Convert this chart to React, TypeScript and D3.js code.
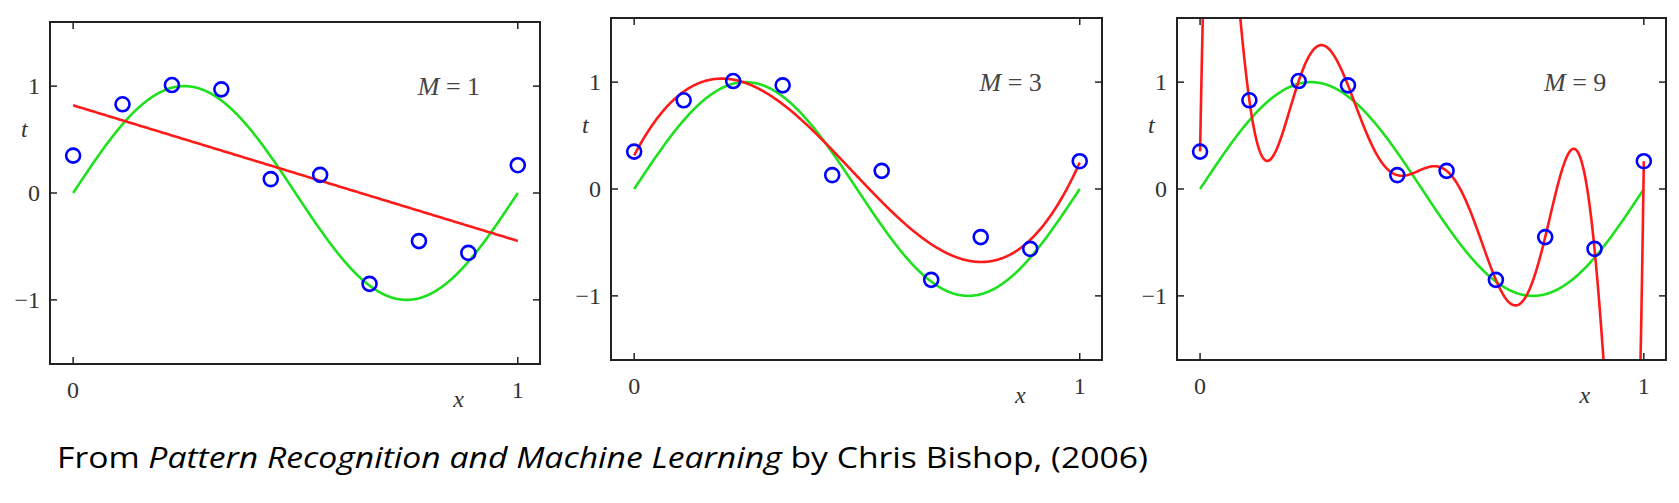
import React from 'react';
import * as d3 from 'd3';

const xs: number[] = [0, 1 / 9, 2 / 9, 3 / 9, 4 / 9, 5 / 9, 6 / 9, 7 / 9, 8 / 9, 1];
const ts: number[] = [0.35, 0.83, 1.01, 0.97, 0.13, 0.17, -0.85, -0.45, -0.56, 0.26];
const orders: number[] = [1, 3, 9];
const xTicks: number[] = [0, 1];
const yTicks: number[] = [-1, 0, 1];

// panel boxes [left, top, right, bottom]
const boxes: number[][] = [
    [50, 22, 540, 364],
    [611, 18, 1102, 360],
    [1177, 18, 1666, 360],
];

// least squares polynomial fit of order m (m=9 -> interpolation)
function polyfit(m: number): number[] {
    const n = m + 1;
    const A: number[][] = [];
    for (let i = 0; i < n; i++) {
        const row: number[] = [];
        for (let j = 0; j < n; j++) {
            row.push(d3.sum(xs, (x) => Math.pow(x, i + j)));
        }
        row.push(d3.sum(xs, (x, k) => Math.pow(x, i) * ts[k]));
        A.push(row);
    }
    for (let c = 0; c < n; c++) {
        let p = c;
        for (let r = c + 1; r < n; r++) if (Math.abs(A[r][c]) > Math.abs(A[p][c])) p = r;
        [A[c], A[p]] = [A[p], A[c]];
        for (let r = 0; r < n; r++) {
            if (r === c) continue;
            const f = A[r][c] / A[c][c];
            for (let k = c; k <= n; k++) A[r][k] -= f * A[c][k];
        }
    }
    return A.map((row, i) => row[n] / row[i]);
}

const evalPoly = (w: number[], x: number) => w.reduce((s, c, i) => s + c * Math.pow(x, i), 0);

const serif = '"Liberation Serif", "DejaVu Serif", serif';

const Panel: React.FC<{ idx: number }> = ({ idx }) => {
    const [l, t, r, b] = boxes[idx];
    const x = d3.scaleLinear().domain([-0.052, 1.05]).range([l, r]);
    const y = d3.scaleLinear().domain([-1.6, 1.6]).range([b, t]);
    const grid = d3.range(0, 1.0001, 0.002);
    const line = d3.line<[number, number]>().x((d) => x(d[0])).y((d) => y(d[1]));
    const w = polyfit(orders[idx]);
    const fit = grid.map((g) => [g, Math.max(-5, Math.min(5, evalPoly(w, g)))] as [number, number]);
    const truth = grid.map((g) => [g, Math.sin(2 * Math.PI * g)] as [number, number]);
    const clipId = `clip${idx}`;
    return (
        <g>
            <defs>
                <clipPath id={clipId}>
                    <rect x={l} y={t} width={r - l} height={b - t} />
                </clipPath>
            </defs>
            <g clipPath={`url(#${clipId})`}>
                <path d={line(truth) ?? ''} fill="none" stroke="#1ee01e" strokeWidth={2.6} />
                <path d={line(fit) ?? ''} fill="none" stroke="#ff1a1a" strokeWidth={2.6} />
                {xs.map((v, i) => (
                    <circle key={i} cx={x(v)} cy={y(ts[i])} r={7} fill="none" stroke="#0000ff" strokeWidth={2.6} />
                ))}
            </g>
            <rect x={l} y={t} width={r - l} height={b - t} fill="none" stroke="#222" strokeWidth={2} />
            {xTicks.map((v) => (
                <g key={v}>
                    <line x1={x(v)} x2={x(v)} y1={b} y2={b - 7} stroke="#222" strokeWidth={1.5} />
                    <line x1={x(v)} x2={x(v)} y1={t} y2={t + 7} stroke="#222" strokeWidth={1.5} />
                    <text x={x(v)} y={b + 34} textAnchor="middle" fontFamily={serif} fontSize={24} fill="#333">{v}</text>
                </g>
            ))}
            {yTicks.map((v) => (
                <g key={v}>
                    <line x1={l} x2={l + 7} y1={y(v)} y2={y(v)} stroke="#222" strokeWidth={1.5} />
                    <line x1={r} x2={r - 7} y1={y(v)} y2={y(v)} stroke="#222" strokeWidth={1.5} />
                    <text x={l - 10} y={y(v) + 8} textAnchor="end" fontFamily={serif} fontSize={24} fill="#333">
                        {v < 0 ? `\u2212${-v}` : v}
                    </text>
                </g>
            ))}
            <text x={l - 29} y={t + 115} fontFamily={serif} fontStyle="italic" fontSize={24} fill="#333">t</text>
            <text x={x(0.855)} y={b + 43} fontFamily={serif} fontStyle="italic" fontSize={24} fill="#333">x</text>
            <text x={x(0.775)} y={y(1) + 9} fontFamily={serif} fontSize={26} fill="#444">
                <tspan fontStyle="italic">M</tspan> = {orders[idx]}
            </text>
        </g>
    );
};

const App: React.FC = () => (
    <svg width={1679} height={503} style={{ position: 'absolute', left: 0, top: 0, background: '#fff' }}>
        {orders.map((_, i) => (
            <Panel key={i} idx={i} />
        ))}
        <text x={57} y={468} fontFamily='"Open Sans", "Noto Sans", sans-serif' fontSize={30} fill="#000"
            textLength={1091} lengthAdjust="spacingAndGlyphs">
            From <tspan fontStyle="italic">Pattern Recognition and Machine Learning</tspan> by Chris Bishop, (2006)
        </text>
    </svg>
);

export default App;
